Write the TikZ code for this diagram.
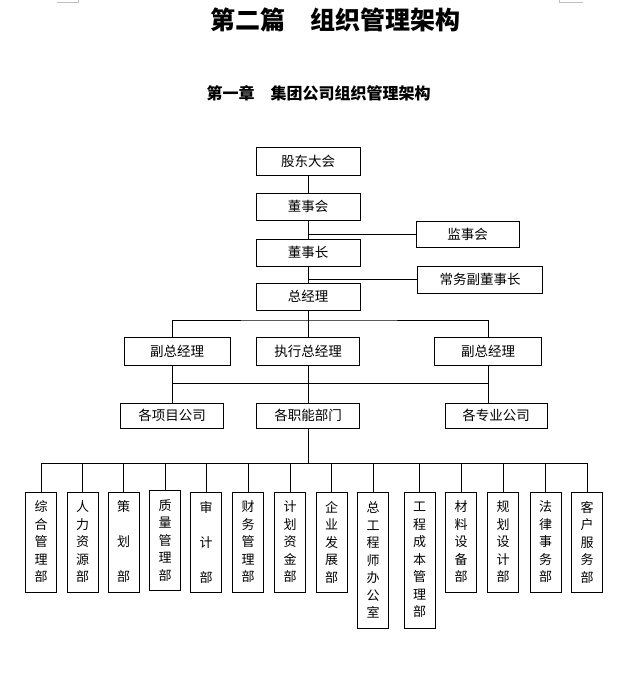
\documentclass[tikz,border=0pt]{standalone}
\usepackage{fontspec}
\setmainfont{Noto Sans CJK SC}
\tikzset{
  kuang/.style={draw, inner sep=0pt, font=\fontsize{13.5}{13.5}\selectfont},
  bumen/.style={draw, inner sep=0pt, minimum width=31pt, minimum height=100pt, align=center, font=\fontsize{13}{17.5}\selectfont},
  gao/.style={bumen, minimum height=136pt},
}
\begin{document}
\begin{tikzpicture}[x=1pt, y=-1pt, line width=0.9pt]
    \useasboundingbox (0,0) rectangle (640,685);
    % 页边角标
    \draw[gray!50, line width=0.6pt] (57,2.5) -- (78,2.5) -- (78,0);
    \draw[gray!50, line width=0.6pt] (559,0) -- (559,2.5) -- (583,2.5);

    % 标题
    \node[font=\fontsize{25}{25}\selectfont\bfseries] (pian) at (335,20) {第二篇　组织管理架构};
    \node[font=\fontsize{16}{16}\selectfont\bfseries] (zhang) at (318.5,93) {第一章　集团公司组织管理架构};

    % 决策层
    \node[kuang, minimum width=104pt, minimum height=28pt] (gudong) at (308,161) {股东大会};
    \node[kuang, minimum width=104pt, minimum height=27pt] (dongshihui) at (308,206.5) {董事会};
    \node[kuang, minimum width=103pt, minimum height=26pt] (jianshihui) at (467.5,234) {监事会};
    \node[kuang, minimum width=104pt, minimum height=27pt] (dongshizhang) at (308,252.5) {董事长};
    \node[kuang, minimum width=125pt, minimum height=27pt] (changwu) at (480,279.5) {常务副董事长};
    \node[kuang, minimum width=104pt, minimum height=27pt] (zongjingli) at (308,296.5) {总经理};

    \draw (gudong) -- (dongshihui);
    \draw (dongshihui) -- (dongshizhang);
    \draw (dongshizhang) -- (zongjingli);
    \draw (jianshihui.west) -- (jianshihui.west -| dongshihui.south);
    \draw (changwu.west) -- (changwu.west -| dongshizhang.south);

    % 经营层
    \node[kuang, minimum width=106pt, minimum height=28pt] (fuzong1) at (177,351) {副总经理};
    \node[kuang, minimum width=103pt, minimum height=28pt] (zhixing) at (308,351) {执行总经理};
    \node[kuang, minimum width=107pt, minimum height=28pt] (fuzong2) at (488,351) {副总经理};

    \node[kuang, minimum width=103pt, minimum height=25pt] (xiangmu) at (172,415.5) {各项目公司};
    \node[kuang, minimum width=103pt, minimum height=25pt] (zhineng) at (308,415.5) {各职能部门};
    \node[kuang, minimum width=102pt, minimum height=25pt] (zhuanye) at (496,415.5) {各专业公司};

    \coordinate (bus1) at (308,320);
    \coordinate (bus2) at (308,383);
    \draw (zongjingli) -- (zhixing);
    \draw (xiangmu.north |- fuzong1.north) |- (bus1) -| (fuzong2.north);
    \draw (zhixing) -- (zhineng);
    \draw (xiangmu.north |- fuzong1.south) -- (xiangmu.north);
    \draw (fuzong2.south) -- (fuzong2.south |- zhuanye.north);
    \draw (bus2 -| xiangmu.north) -- (bus2 -| fuzong2.south);

    % 职能部门
    \node[bumen] (d1) at (41,542) {综\\合\\管\\理\\部};
    \node[bumen] (d2) at (82.5,542) {人\\力\\资\\源\\部};
    \node[bumen] (d3) at (123.5,542) {策\\\phantom{策}\\划\\\phantom{策}\\部};
    \node[bumen] (d4) at (165,540.5) {质\\量\\管\\理\\部};
    \node[bumen] (d5) at (206,542) {审\\\phantom{审}\\计\\\phantom{审}\\部};
    \node[bumen] (d6) at (248,542) {财\\务\\管\\理\\部};
    \node[bumen] (d7) at (290,542) {计\\划\\资\\金\\部};
    \node[bumen] (d8) at (331.5,542) {企\\业\\发\\展\\部};
    \node[gao] (d9) at (373,560) {总\\工\\程\\师\\办\\公\\室};
    \node[gao] (d10) at (419.5,560) {工\\程\\成\\本\\管\\理\\部};
    \node[bumen] (d11) at (461,542) {材\\料\\设\\备\\部};
    \node[bumen] (d12) at (503,542) {规\\划\\设\\计\\部};
    \node[bumen] (d13) at (545.5,542) {法\\律\\事\\务\\部};
    \node[bumen] (d14) at (587,542) {客\\户\\服\\务\\部};

    \coordinate (bus3) at (308,463);
    \draw (zhineng) -- (bus3);
    \draw (bus3 -| d1.north) -- (bus3 -| d14.north);
    \draw (d1) -- (d1 |- bus3);
    \draw (d2) -- (d2 |- bus3);
    \draw (d3) -- (d3 |- bus3);
    \draw (d4) -- (d4 |- bus3);
    \draw (d5) -- (d5 |- bus3);
    \draw (d6) -- (d6 |- bus3);
    \draw (d7) -- (d7 |- bus3);
    \draw (d8) -- (d8 |- bus3);
    \draw (d9) -- (d9 |- bus3);
    \draw (d10) -- (d10 |- bus3);
    \draw (d11) -- (d11 |- bus3);
    \draw (d12) -- (d12 |- bus3);
    \draw (d13) -- (d13 |- bus3);
    \draw (d14) -- (d14 |- bus3);
\end{tikzpicture}
\end{document}
